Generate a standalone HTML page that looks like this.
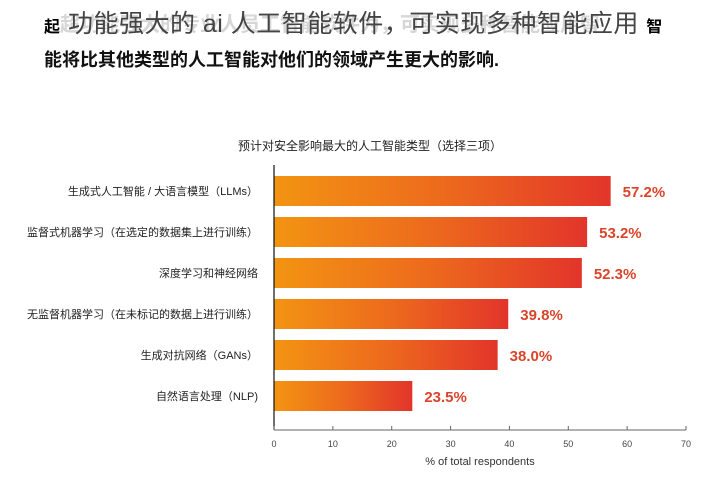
<!DOCTYPE html>
<html><head><meta charset="utf-8"><style>
body{margin:0;width:718px;height:500px;background:#fff;overflow:hidden;font-family:"Liberation Sans","Noto Sans CJK SC",sans-serif;position:relative}
.h1{position:absolute;left:44px;top:4px;font-size:25px;color:#444;white-space:nowrap;letter-spacing:0.5px}
.h1b{position:absolute;left:60px;top:8px;font-size:20px;color:#bbb;white-space:nowrap;font-weight:bold;opacity:.6}
.h2{position:absolute;left:44px;top:46px;font-size:18px;font-weight:bold;color:#111;white-space:nowrap}
</style></head><body>
<div class="h1b">超功能强大的专业人员工智能软件为，可实现多种智能应用智</div>
<div class="h1"><b style="font-size:16px;color:#000">起</b> 功能强大的 ai 人工智能软件，可实现多种智能应用 <b style="font-size:16px;color:#000">智</b></div>
<div class="h2">能将比其他类型的人工智能对他们的领域产生更大的影响.</div>
<svg id="chart" width="718" height="500" style="position:absolute;left:0;top:0">
<defs><linearGradient id="g" x1="0" x2="1" y1="0" y2="0"><stop offset="0" stop-color="#f39412"/><stop offset="0.5" stop-color="#ed6a1d"/><stop offset="1" stop-color="#e2352a"/></linearGradient></defs>
<text x="370" y="150" text-anchor="middle" font-size="12" fill="#222">预计对安全影响最大的人工智能类型（选择三项）</text>
</svg>
<script>
const categories=["生成式人工智能 / 大语言模型（LLMs）","监督式机器学习（在选定的数据集上进行训练）","深度学习和神经网络","无监督机器学习（在未标记的数据上进行训练）","生成对抗网络（GANs）","自然语言处理（NLP)"];
const values=[57.2,53.2,52.3,39.8,38.0,23.5];
const ticks=[0,10,20,30,40,50,60,70];
const svg=document.getElementById('chart');const NS='http://www.w3.org/2000/svg';
const x0=274,x1=686,xmax=70,yTop=176,pitch=41,bh=30,axisY=430;
const sx=v=>x0+(v/xmax)*(x1-x0);
function mk(t,a){const e=document.createElementNS(NS,t);for(const k in a)e.setAttribute(k,a[k]);svg.appendChild(e);return e;}
categories.forEach((c,i)=>{
 const y=yTop+i*pitch;
 const r=mk('rect',{x:x0,y:y,width:sx(values[i])-x0,height:bh,fill:'url(#g)'});
 
 
 const l=mk('text',{x:258,y:y+bh/2+4,'text-anchor':'end','font-size':'11',fill:'#222'});l.textContent=c;
 
 
 const v=mk('text',{x:sx(values[i])+12,y:y+bh/2+6,'font-size':'15','font-weight':'bold',fill:'#d9452b'});v.textContent=values[i].toFixed(1)+'%';
 
 
});
const ya=mk('line',{x1:x0,x2:x0,y1:165,y2:axisY,stroke:'#111','stroke-width':1.2});


const xa=mk('line',{x1:x0,x2:x1,y1:axisY,y2:axisY,stroke:'#666','stroke-width':1});


ticks.forEach(t=>{
 mk('line',{x1:sx(t),x2:sx(t),y1:axisY-4,y2:axisY,stroke:'#666'});
 const tl=mk('text',{x:sx(t),y:axisY+17,'text-anchor':'middle','font-size':'9',fill:'#444'});tl.textContent=t;
 
 
});
const xt=mk('text',{x:480,y:465,'text-anchor':'middle','font-size':'11',fill:'#333'});xt.textContent='% of total respondents';


</script>
</body></html>
